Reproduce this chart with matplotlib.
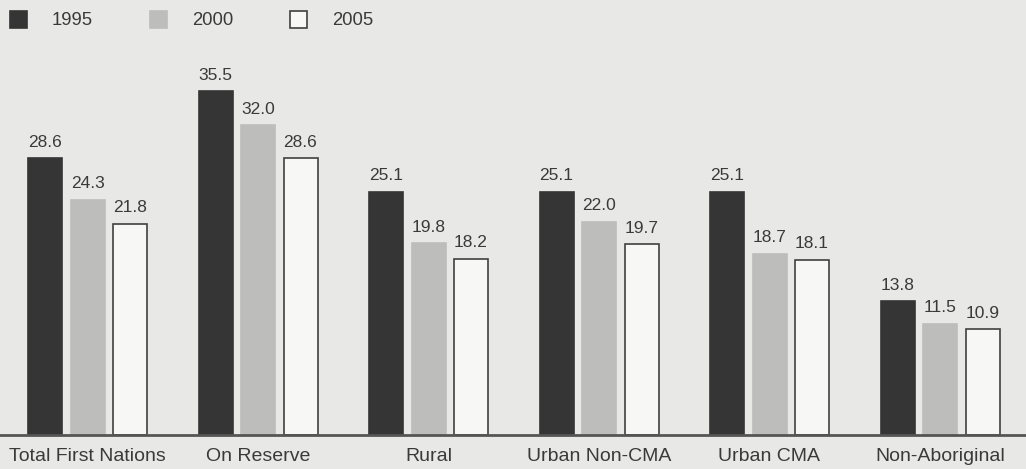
import matplotlib.pyplot as plt
import numpy as np
from matplotlib.patches import Rectangle

categories = ["Total First Nations", "On Reserve", "Rural", "Urban Non-CMA", "Urban CMA", "Non-Aboriginal"]
years = ["1995", "2000", "2005"]
v1995 = [28.6, 35.5, 25.1, 25.1, 25.1, 13.8]
v2000 = [24.3, 32.0, 19.8, 22.0, 18.7, 11.5]
v2005 = [21.8, 28.6, 18.2, 19.7, 18.1, 10.9]

plt.rcParams['font.family'] = ['Liberation Sans', 'DejaVu Sans']
bg = "#e8e8e6"
txt = "#3a3a3a"

fig = plt.figure(figsize=(10.26, 4.69), dpi=100, facecolor=bg)
ax = fig.add_axes([0, 34 / 469, 1, 387.6 / 469], facecolor=bg)

x = np.arange(len(categories))
step = 42.5 / 170.5
width = 34 / 170.5
styles = [
    dict(color="#353535", edgecolor="#353535"),
    dict(color="#bdbdbb", edgecolor="#bdbdbb"),
    dict(color="#f7f7f5", edgecolor="#404040"),
]
for i, (vals, st) in enumerate(zip([v1995, v2000, v2005], styles)):
    xs = x + (i - 1) * step
    ax.bar(xs, vals, width=width, linewidth=1.2, zorder=2, **st)
    for xi, v in zip(xs, vals):
        ax.annotate(f"{v:.1f}", (xi, v), xytext=(0, 6), textcoords="offset points",
                    ha="center", va="bottom", fontsize=12.5, color=txt)

ax.set_xlim((0 - 87.5) / 170.5, (1026 - 87.5) / 170.5)
ax.set_ylim(0, 40)
ax.axhline(0, color="#555555", lw=2, zorder=3, clip_on=False)
for s in ax.spines.values():
    s.set_visible(False)
ax.set_yticks([])
ax.set_xticks(x)
ax.set_xticklabels(categories, fontsize=14, color=txt)
ax.tick_params(axis="x", length=0, pad=9)

# legend drawn in pixel positions along the top
legend_x = [10, 150, 290]
for yr, lx, st in zip(years, legend_x, styles):
    fig.add_artist(Rectangle((lx / 1026, (469 - 28) / 469), 17 / 1026, 17 / 469,
                             transform=fig.transFigure, facecolor=st["color"],
                             edgecolor=st["edgecolor"], linewidth=1.2))
    fig.text((lx + 42) / 1026, (469 - 20.5) / 469, yr, fontsize=13.3, color=txt, va="center")

fig.savefig("out.png", dpi=100, facecolor=bg)
